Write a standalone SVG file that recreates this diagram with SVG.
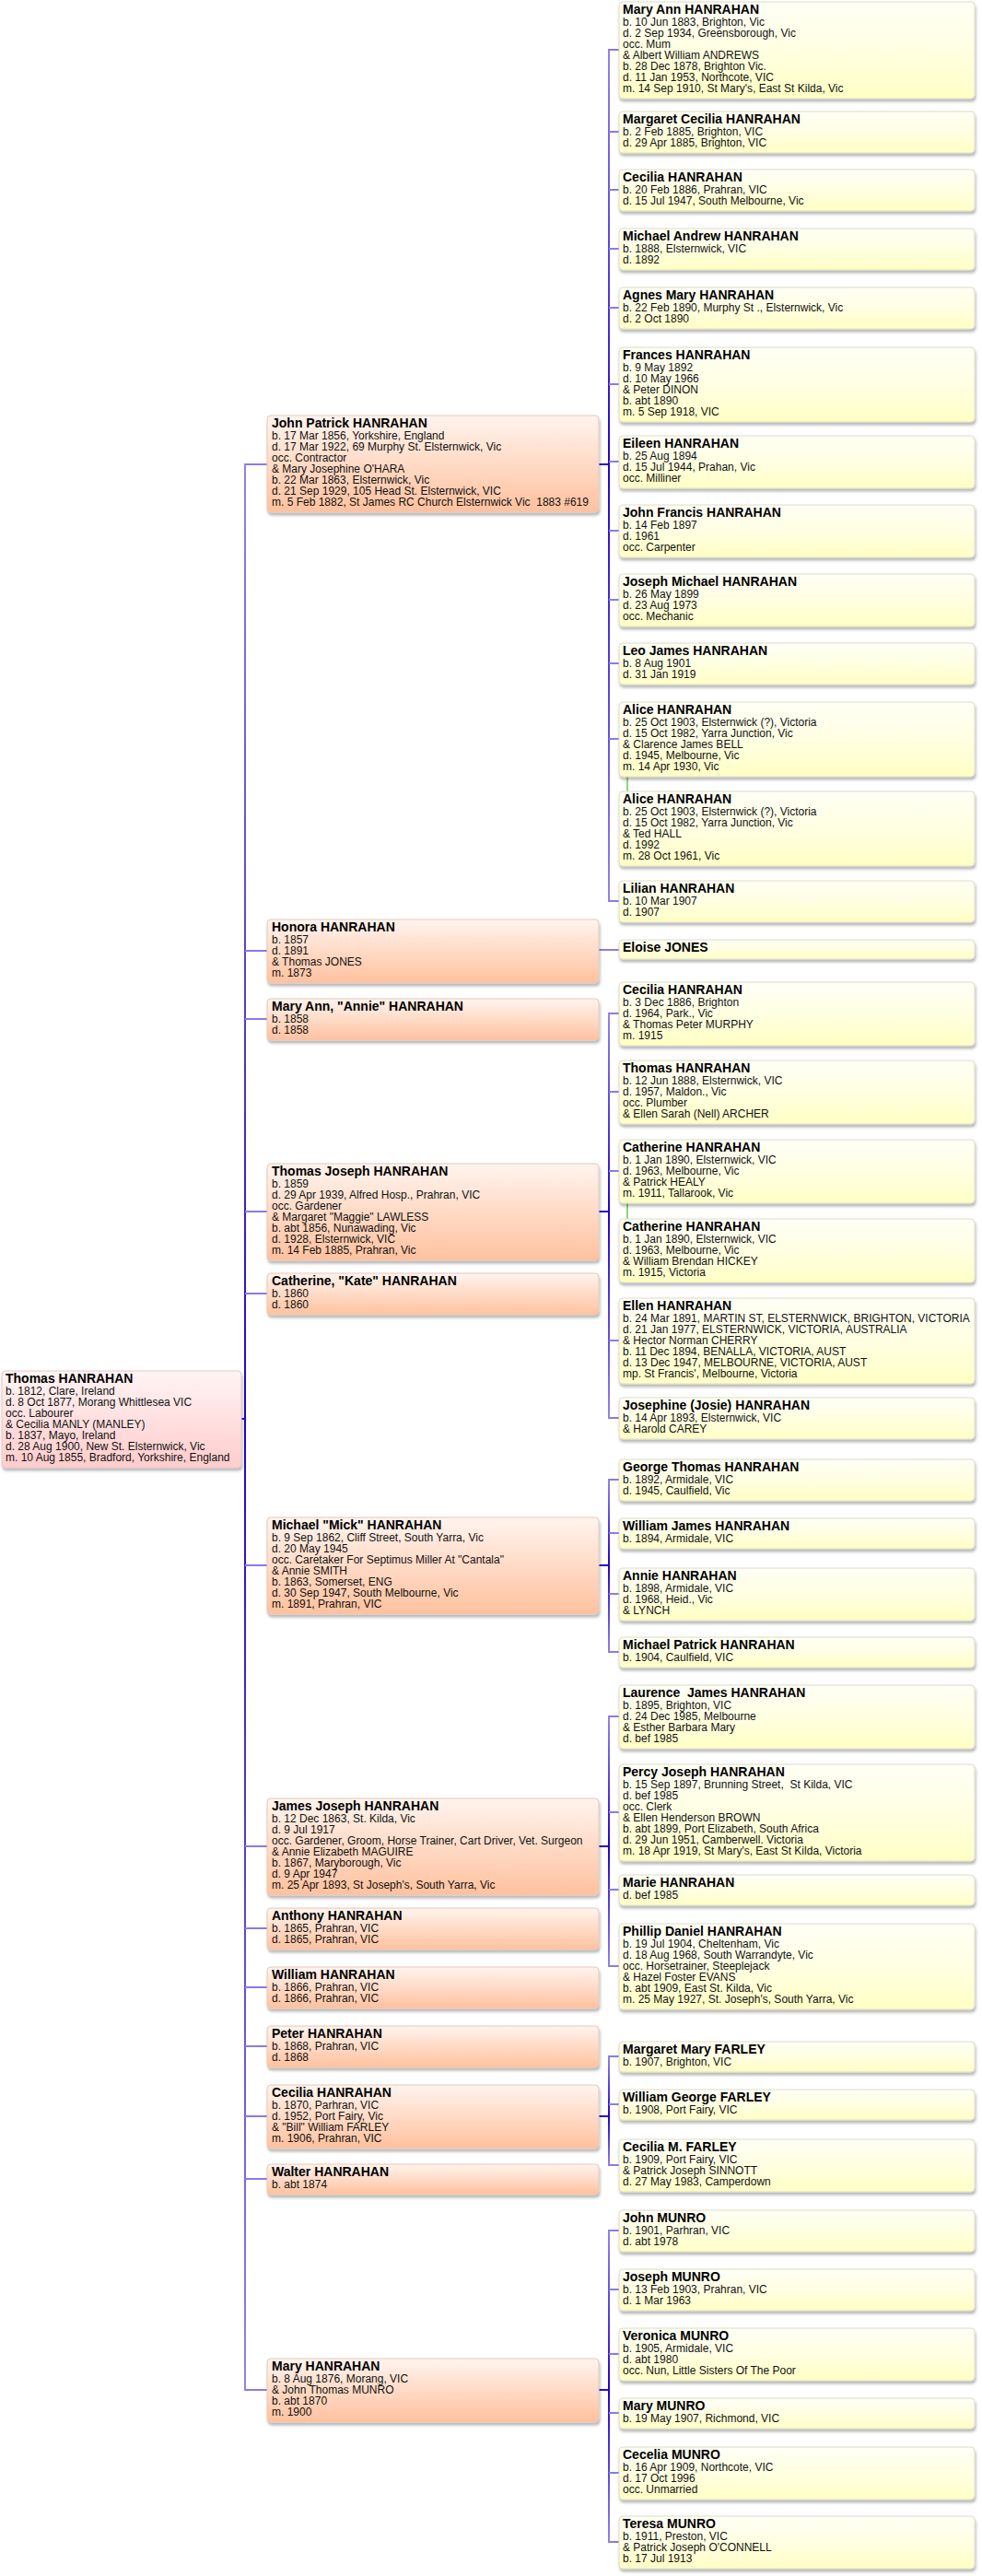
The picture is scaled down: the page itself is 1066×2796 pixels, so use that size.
<svg xmlns="http://www.w3.org/2000/svg" width="1066" height="2796" viewBox="0 0 1066 2796">
<style>
text{font-family:"Liberation Sans",Arial,Helvetica,sans-serif;font-size:12px;fill:#111}
.h{font-weight:bold;font-size:14px;fill:#000}
.y{fill:url(#gy);stroke:#dcdcc8;stroke-width:1;filter:url(#sh)}
.o{fill:url(#go);stroke:#e6c8b8;stroke-width:1;filter:url(#sh)}
.p{fill:url(#gp);stroke:#e4c8c8;stroke-width:1;filter:url(#sh)}
.lt{stroke:#8a7ce2;stroke-width:2;fill:none}
.dk{stroke:#2a0ed0;stroke-width:2;fill:none}
.gr{stroke:#8cd67c;stroke-width:2;fill:none}
</style>
<defs>
<linearGradient id="gy" x1="0" y1="0" x2="0" y2="1"><stop offset="0" stop-color="#fffff6"/><stop offset="0.5" stop-color="#ffffe2"/><stop offset="1" stop-color="#ffffc4"/></linearGradient>
<linearGradient id="go" x1="0" y1="0" x2="0" y2="1"><stop offset="0" stop-color="#fff4ee"/><stop offset="1" stop-color="#ffc19e"/></linearGradient>
<linearGradient id="gp" x1="0" y1="0" x2="0" y2="1"><stop offset="0" stop-color="#fff4f4"/><stop offset="1" stop-color="#ffcccc"/></linearGradient>
<linearGradient id="gUp" x1="0" y1="0" x2="0" y2="1"><stop offset="0" stop-color="#9384e4"/><stop offset="1" stop-color="#2200cc"/></linearGradient>
<linearGradient id="gDn" x1="0" y1="0" x2="0" y2="1"><stop offset="0" stop-color="#2200cc"/><stop offset="1" stop-color="#9384e4"/></linearGradient>
<filter id="sh" x="-5%" y="-10%" width="110%" height="130%"><feDropShadow dx="1" dy="3" stdDeviation="1.6" flood-color="#000" flood-opacity="0.28"/></filter>
</defs>

<g id="connectors">
<rect x="265" y="503" width="2" height="1038" fill="url(#gUp)"/>
<rect x="265" y="1540" width="2" height="1055" fill="url(#gDn)"/>
<line class="dk" x1="262" y1="1540" x2="266" y2="1540"/>
<line class="lt" x1="266" y1="504" x2="290" y2="504"/>
<line class="lt" x1="266" y1="1032" x2="290" y2="1032"/>
<line class="lt" x1="266" y1="1106" x2="290" y2="1106"/>
<line class="lt" x1="266" y1="1315" x2="290" y2="1315"/>
<line class="lt" x1="266" y1="1404" x2="290" y2="1404"/>
<line class="lt" x1="266" y1="1699" x2="290" y2="1699"/>
<line class="lt" x1="266" y1="2004" x2="290" y2="2004"/>
<line class="lt" x1="266" y1="2093" x2="290" y2="2093"/>
<line class="lt" x1="266" y1="2157" x2="290" y2="2157"/>
<line class="lt" x1="266" y1="2221" x2="290" y2="2221"/>
<line class="lt" x1="266" y1="2297" x2="290" y2="2297"/>
<line class="lt" x1="266" y1="2365" x2="290" y2="2365"/>
<line class="lt" x1="266" y1="2594" x2="290" y2="2594"/>

<line class="dk" x1="650" y1="504" x2="661" y2="504"/>
<line class="dk" x1="650" y1="1315" x2="661" y2="1315"/>
<line class="dk" x1="650" y1="1699" x2="661" y2="1699"/>
<line class="dk" x1="650" y1="2004" x2="661" y2="2004"/>
<line class="dk" x1="650" y1="2297" x2="661" y2="2297"/>
<line class="dk" x1="650" y1="2594" x2="661" y2="2594"/>
<line class="lt" x1="650" y1="1031" x2="672" y2="1031"/>

<rect x="660" y="53" width="2" height="452" fill="url(#gUp)"/>
<rect x="660" y="504" width="2" height="475" fill="url(#gDn)"/>
<rect x="660" y="1099" width="2" height="217" fill="url(#gUp)"/>
<rect x="660" y="1315" width="2" height="225" fill="url(#gDn)"/>
<rect x="660" y="1605" width="2" height="95" fill="url(#gUp)"/>
<rect x="660" y="1699" width="2" height="95" fill="url(#gDn)"/>
<rect x="660" y="1862" width="2" height="143" fill="url(#gUp)"/>
<rect x="660" y="2004" width="2" height="131" fill="url(#gDn)"/>
<rect x="660" y="2231" width="2" height="67" fill="url(#gUp)"/>
<rect x="660" y="2297" width="2" height="54" fill="url(#gDn)"/>
<rect x="660" y="2420" width="2" height="175" fill="url(#gUp)"/>
<rect x="660" y="2594" width="2" height="166" fill="url(#gDn)"/>

<line class="lt" x1="661" y1="54" x2="672" y2="54"/>
<line class="lt" x1="661" y1="143" x2="672" y2="143"/>
<line class="lt" x1="661" y1="206" x2="672" y2="206"/>
<line class="lt" x1="661" y1="270" x2="672" y2="270"/>
<line class="lt" x1="661" y1="334" x2="672" y2="334"/>
<line class="lt" x1="661" y1="417" x2="672" y2="417"/>
<line class="lt" x1="661" y1="501" x2="672" y2="501"/>
<line class="lt" x1="661" y1="576" x2="672" y2="576"/>
<line class="lt" x1="661" y1="651" x2="672" y2="651"/>
<line class="lt" x1="661" y1="720" x2="672" y2="720"/>
<line class="lt" x1="661" y1="802" x2="672" y2="802"/>
<line class="lt" x1="661" y1="978" x2="672" y2="978"/>
<line class="lt" x1="661" y1="1100" x2="672" y2="1100"/>
<line class="lt" x1="661" y1="1185" x2="672" y2="1185"/>
<line class="lt" x1="661" y1="1271" x2="672" y2="1271"/>
<line class="lt" x1="661" y1="1455" x2="672" y2="1455"/>
<line class="lt" x1="661" y1="1539" x2="672" y2="1539"/>
<line class="lt" x1="661" y1="1606" x2="672" y2="1606"/>
<line class="lt" x1="661" y1="1664" x2="672" y2="1664"/>
<line class="lt" x1="661" y1="1730" x2="672" y2="1730"/>
<line class="lt" x1="661" y1="1793" x2="672" y2="1793"/>
<line class="lt" x1="661" y1="1863" x2="672" y2="1863"/>
<line class="lt" x1="661" y1="1967" x2="672" y2="1967"/>
<line class="lt" x1="661" y1="2051" x2="672" y2="2051"/>
<line class="lt" x1="661" y1="2134" x2="672" y2="2134"/>
<line class="lt" x1="661" y1="2232" x2="672" y2="2232"/>
<line class="lt" x1="661" y1="2284" x2="672" y2="2284"/>
<line class="lt" x1="661" y1="2350" x2="672" y2="2350"/>
<line class="lt" x1="661" y1="2421" x2="672" y2="2421"/>
<line class="lt" x1="661" y1="2485" x2="672" y2="2485"/>
<line class="lt" x1="661" y1="2555" x2="672" y2="2555"/>
<line class="lt" x1="661" y1="2619" x2="672" y2="2619"/>
<line class="lt" x1="661" y1="2684" x2="672" y2="2684"/>
<line class="lt" x1="661" y1="2759" x2="672" y2="2759"/>

<line class="gr" x1="681" y1="843" x2="681" y2="859"/>
<line class="gr" x1="681" y1="1306" x2="681" y2="1323"/>
</g>

<g id="root">
<rect class="p" x="2" y="1488" width="260" height="105" rx="4"/>
<text x="6" y="1501"><tspan class="h">Thomas HANRAHAN</tspan><tspan x="6" dy="12.5">b. 1812, Clare, Ireland</tspan><tspan x="6" dy="12">d. 8 Oct 1877, Morang Whittlesea VIC</tspan><tspan x="6" dy="12">occ. Labourer</tspan><tspan x="6" dy="12">&amp; Cecilia MANLY (MANLEY)</tspan><tspan x="6" dy="12">b. 1837, Mayo, Ireland</tspan><tspan x="6" dy="12">d. 28 Aug 1900, New St. Elsternwick, Vic</tspan><tspan x="6" dy="12">m. 10 Aug 1855, Bradford, Yorkshire, England</tspan></text>
</g>

<g id="p01">
<rect class="o" x="290" y="451" width="360" height="105" rx="4"/>
<text x="295" y="464"><tspan class="h">John Patrick HANRAHAN</tspan><tspan x="295" dy="12.5">b. 17 Mar 1856, Yorkshire, England</tspan><tspan x="295" dy="12">d. 17 Mar 1922, 69 Murphy St. Elsternwick, Vic</tspan><tspan x="295" dy="12">occ. Contractor</tspan><tspan x="295" dy="12">&amp; Mary Josephine O'HARA</tspan><tspan x="295" dy="12">b. 22 Mar 1863, Elsternwick, Vic</tspan><tspan x="295" dy="12">d. 21 Sep 1929, 105 Head St. Elsternwick, VIC</tspan><tspan x="295" dy="12">m. 5 Feb 1882, St James RC Church Elsternwick Vic&#160; 1883 #619</tspan></text>
</g>
<g id="p02">
<rect class="o" x="290" y="998" width="360" height="69" rx="4"/>
<text x="295" y="1011"><tspan class="h">Honora HANRAHAN</tspan><tspan x="295" dy="12.5">b. 1857</tspan><tspan x="295" dy="12">d. 1891</tspan><tspan x="295" dy="12">&amp; Thomas JONES</tspan><tspan x="295" dy="12">m. 1873</tspan></text>
</g>
<g id="p03">
<rect class="o" x="290" y="1084" width="360" height="45" rx="4"/>
<text x="295" y="1097"><tspan class="h">Mary Ann, "Annie" HANRAHAN</tspan><tspan x="295" dy="12.5">b. 1858</tspan><tspan x="295" dy="12">d. 1858</tspan></text>
</g>
<g id="p04">
<rect class="o" x="290" y="1263" width="360" height="105" rx="4"/>
<text x="295" y="1276"><tspan class="h">Thomas Joseph HANRAHAN</tspan><tspan x="295" dy="12.5">b. 1859</tspan><tspan x="295" dy="12">d. 29 Apr 1939, Alfred Hosp., Prahran, VIC</tspan><tspan x="295" dy="12">occ. Gardener</tspan><tspan x="295" dy="12">&amp; Margaret "Maggie" LAWLESS</tspan><tspan x="295" dy="12">b. abt 1856, Nunawading, Vic</tspan><tspan x="295" dy="12">d. 1928, Elsternwick, VIC</tspan><tspan x="295" dy="12">m. 14 Feb 1885, Prahran, Vic</tspan></text>
</g>
<g id="p05">
<rect class="o" x="290" y="1382" width="360" height="45" rx="4"/>
<text x="295" y="1395"><tspan class="h">Catherine, "Kate" HANRAHAN</tspan><tspan x="295" dy="12.5">b. 1860</tspan><tspan x="295" dy="12">d. 1860</tspan></text>
</g>
<g id="p06">
<rect class="o" x="290" y="1647" width="360" height="105" rx="4"/>
<text x="295" y="1660"><tspan class="h">Michael "Mick" HANRAHAN</tspan><tspan x="295" dy="12.5">b. 9 Sep 1862, Cliff Street, South Yarra, Vic</tspan><tspan x="295" dy="12">d. 20 May 1945</tspan><tspan x="295" dy="12">occ. Caretaker For Septimus Miller At "Cantala"</tspan><tspan x="295" dy="12">&amp; Annie SMITH</tspan><tspan x="295" dy="12">b. 1863, Somerset, ENG</tspan><tspan x="295" dy="12">d. 30 Sep 1947, South Melbourne, Vic</tspan><tspan x="295" dy="12">m. 1891, Prahran, VIC</tspan></text>
</g>
<g id="p07">
<rect class="o" x="290" y="1952" width="360" height="105" rx="4"/>
<text x="295" y="1965"><tspan class="h">James Joseph HANRAHAN</tspan><tspan x="295" dy="12.5">b. 12 Dec 1863, St. Kilda, Vic</tspan><tspan x="295" dy="12">d. 9 Jul 1917</tspan><tspan x="295" dy="12">occ. Gardener, Groom, Horse Trainer, Cart Driver, Vet. Surgeon</tspan><tspan x="295" dy="12">&amp; Annie Elizabeth MAGUIRE</tspan><tspan x="295" dy="12">b. 1867, Maryborough, Vic</tspan><tspan x="295" dy="12">d. 9 Apr 1947</tspan><tspan x="295" dy="12">m. 25 Apr 1893, St Joseph's, South Yarra, Vic</tspan></text>
</g>
<g id="p08">
<rect class="o" x="290" y="2071" width="360" height="45" rx="4"/>
<text x="295" y="2084"><tspan class="h">Anthony HANRAHAN</tspan><tspan x="295" dy="12.5">b. 1865, Prahran, VIC</tspan><tspan x="295" dy="12">d. 1865, Prahran, VIC</tspan></text>
</g>
<g id="p09">
<rect class="o" x="290" y="2135" width="360" height="45" rx="4"/>
<text x="295" y="2148"><tspan class="h">William HANRAHAN</tspan><tspan x="295" dy="12.5">b. 1866, Prahran, VIC</tspan><tspan x="295" dy="12">d. 1866, Prahran, VIC</tspan></text>
</g>
<g id="p10">
<rect class="o" x="290" y="2199" width="360" height="45" rx="4"/>
<text x="295" y="2212"><tspan class="h">Peter HANRAHAN</tspan><tspan x="295" dy="12.5">b. 1868, Prahran, VIC</tspan><tspan x="295" dy="12">d. 1868</tspan></text>
</g>
<g id="p11">
<rect class="o" x="290" y="2263" width="360" height="69" rx="4"/>
<text x="295" y="2276"><tspan class="h">Cecilia HANRAHAN</tspan><tspan x="295" dy="12.5">b. 1870, Parhran, VIC</tspan><tspan x="295" dy="12">d. 1952, Port Fairy, Vic</tspan><tspan x="295" dy="12">&amp; "Bill" William FARLEY</tspan><tspan x="295" dy="12">m. 1906, Prahran, VIC</tspan></text>
</g>
<g id="p12">
<rect class="o" x="290" y="2349" width="360" height="33" rx="4"/>
<text x="295" y="2362"><tspan class="h">Walter HANRAHAN</tspan><tspan x="295" dy="12.5">b. abt 1874</tspan></text>
</g>
<g id="p13">
<rect class="o" x="290" y="2560" width="360" height="69" rx="4"/>
<text x="295" y="2573"><tspan class="h">Mary HANRAHAN</tspan><tspan x="295" dy="12.5">b. 8 Aug 1876, Morang, VIC</tspan><tspan x="295" dy="12">&amp; John Thomas MUNRO</tspan><tspan x="295" dy="12">b. abt 1870</tspan><tspan x="295" dy="12">m. 1900</tspan></text>
</g>

<g id="c01">
<rect class="y" x="672" y="2" width="386" height="105" rx="4"/>
<text x="676" y="15"><tspan class="h">Mary Ann HANRAHAN</tspan><tspan x="676" dy="12.5">b. 10 Jun 1883, Brighton, Vic</tspan><tspan x="676" dy="12">d. 2 Sep 1934, Greensborough, Vic</tspan><tspan x="676" dy="12">occ. Mum</tspan><tspan x="676" dy="12">&amp; Albert William ANDREWS</tspan><tspan x="676" dy="12">b. 28 Dec 1878, Brighton Vic.</tspan><tspan x="676" dy="12">d. 11 Jan 1953, Northcote, VIC</tspan><tspan x="676" dy="12">m. 14 Sep 1910, St Mary's, East St Kilda, Vic</tspan></text>
</g>
<g id="c02">
<rect class="y" x="672" y="121" width="386" height="45" rx="4"/>
<text x="676" y="134"><tspan class="h">Margaret Cecilia HANRAHAN</tspan><tspan x="676" dy="12.5">b. 2 Feb 1885, Brighton, VIC</tspan><tspan x="676" dy="12">d. 29 Apr 1885, Brighton, VIC</tspan></text>
</g>
<g id="c03">
<rect class="y" x="672" y="184" width="386" height="45" rx="4"/>
<text x="676" y="197"><tspan class="h">Cecilia HANRAHAN</tspan><tspan x="676" dy="12.5">b. 20 Feb 1886, Prahran, VIC</tspan><tspan x="676" dy="12">d. 15 Jul 1947, South Melbourne, Vic</tspan></text>
</g>
<g id="c04">
<rect class="y" x="672" y="248" width="386" height="45" rx="4"/>
<text x="676" y="261"><tspan class="h">Michael Andrew HANRAHAN</tspan><tspan x="676" dy="12.5">b. 1888, Elsternwick, VIC</tspan><tspan x="676" dy="12">d. 1892</tspan></text>
</g>
<g id="c05">
<rect class="y" x="672" y="312" width="386" height="45" rx="4"/>
<text x="676" y="325"><tspan class="h">Agnes Mary HANRAHAN</tspan><tspan x="676" dy="12.5">b. 22 Feb 1890, Murphy St ., Elsternwick, Vic</tspan><tspan x="676" dy="12">d. 2 Oct 1890</tspan></text>
</g>
<g id="c06">
<rect class="y" x="672" y="377" width="386" height="81" rx="4"/>
<text x="676" y="390"><tspan class="h">Frances HANRAHAN</tspan><tspan x="676" dy="12.5">b. 9 May 1892</tspan><tspan x="676" dy="12">d. 10 May 1966</tspan><tspan x="676" dy="12">&amp; Peter DINON</tspan><tspan x="676" dy="12">b. abt 1890</tspan><tspan x="676" dy="12">m. 5 Sep 1918, VIC</tspan></text>
</g>
<g id="c07">
<rect class="y" x="672" y="473" width="386" height="57" rx="4"/>
<text x="676" y="486"><tspan class="h">Eileen HANRAHAN</tspan><tspan x="676" dy="12.5">b. 25 Aug 1894</tspan><tspan x="676" dy="12">d. 15 Jul 1944, Prahan, Vic</tspan><tspan x="676" dy="12">occ. Milliner</tspan></text>
</g>
<g id="c08">
<rect class="y" x="672" y="548" width="386" height="57" rx="4"/>
<text x="676" y="561"><tspan class="h">John Francis HANRAHAN</tspan><tspan x="676" dy="12.5">b. 14 Feb 1897</tspan><tspan x="676" dy="12">d. 1961</tspan><tspan x="676" dy="12">occ. Carpenter</tspan></text>
</g>
<g id="c09">
<rect class="y" x="672" y="623" width="386" height="57" rx="4"/>
<text x="676" y="636"><tspan class="h">Joseph Michael HANRAHAN</tspan><tspan x="676" dy="12.5">b. 26 May 1899</tspan><tspan x="676" dy="12">d. 23 Aug 1973</tspan><tspan x="676" dy="12">occ. Mechanic</tspan></text>
</g>
<g id="c10">
<rect class="y" x="672" y="698" width="386" height="45" rx="4"/>
<text x="676" y="711"><tspan class="h">Leo James HANRAHAN</tspan><tspan x="676" dy="12.5">b. 8 Aug 1901</tspan><tspan x="676" dy="12">d. 31 Jan 1919</tspan></text>
</g>
<g id="c11">
<rect class="y" x="672" y="762" width="386" height="81" rx="4"/>
<text x="676" y="775"><tspan class="h">Alice HANRAHAN</tspan><tspan x="676" dy="12.5">b. 25 Oct 1903, Elsternwick (?), Victoria</tspan><tspan x="676" dy="12">d. 15 Oct 1982, Yarra Junction, Vic</tspan><tspan x="676" dy="12">&amp; Clarence James BELL</tspan><tspan x="676" dy="12">d. 1945, Melbourne, Vic</tspan><tspan x="676" dy="12">m. 14 Apr 1930, Vic</tspan></text>
</g>
<g id="c12">
<rect class="y" x="672" y="859" width="386" height="81" rx="4"/>
<text x="676" y="872"><tspan class="h">Alice HANRAHAN</tspan><tspan x="676" dy="12.5">b. 25 Oct 1903, Elsternwick (?), Victoria</tspan><tspan x="676" dy="12">d. 15 Oct 1982, Yarra Junction, Vic</tspan><tspan x="676" dy="12">&amp; Ted HALL</tspan><tspan x="676" dy="12">d. 1992</tspan><tspan x="676" dy="12">m. 28 Oct 1961, Vic</tspan></text>
</g>
<g id="c13">
<rect class="y" x="672" y="956" width="386" height="45" rx="4"/>
<text x="676" y="969"><tspan class="h">Lilian HANRAHAN</tspan><tspan x="676" dy="12.5">b. 10 Mar 1907</tspan><tspan x="676" dy="12">d. 1907</tspan></text>
</g>
<g id="c14">
<rect class="y" x="672" y="1020" width="386" height="21" rx="4"/>
<text x="676" y="1033"><tspan class="h">Eloise JONES</tspan></text>
</g>
<g id="c15">
<rect class="y" x="672" y="1066" width="386" height="69" rx="4"/>
<text x="676" y="1079"><tspan class="h">Cecilia HANRAHAN</tspan><tspan x="676" dy="12.5">b. 3 Dec 1886, Brighton</tspan><tspan x="676" dy="12">d. 1964, Park., Vic</tspan><tspan x="676" dy="12">&amp; Thomas Peter MURPHY</tspan><tspan x="676" dy="12">m. 1915</tspan></text>
</g>
<g id="c16">
<rect class="y" x="672" y="1151" width="386" height="69" rx="4"/>
<text x="676" y="1164"><tspan class="h">Thomas HANRAHAN</tspan><tspan x="676" dy="12.5">b. 12 Jun 1888, Elsternwick, VIC</tspan><tspan x="676" dy="12">d. 1957, Maldon., Vic</tspan><tspan x="676" dy="12">occ. Plumber</tspan><tspan x="676" dy="12">&amp; Ellen Sarah (Nell) ARCHER</tspan></text>
</g>
<g id="c17">
<rect class="y" x="672" y="1237" width="386" height="69" rx="4"/>
<text x="676" y="1250"><tspan class="h">Catherine HANRAHAN</tspan><tspan x="676" dy="12.5">b. 1 Jan 1890, Elsternwick, VIC</tspan><tspan x="676" dy="12">d. 1963, Melbourne, Vic</tspan><tspan x="676" dy="12">&amp; Patrick HEALY</tspan><tspan x="676" dy="12">m. 1911, Tallarook, Vic</tspan></text>
</g>
<g id="c18">
<rect class="y" x="672" y="1323" width="386" height="69" rx="4"/>
<text x="676" y="1336"><tspan class="h">Catherine HANRAHAN</tspan><tspan x="676" dy="12.5">b. 1 Jan 1890, Elsternwick, VIC</tspan><tspan x="676" dy="12">d. 1963, Melbourne, Vic</tspan><tspan x="676" dy="12">&amp; William Brendan HICKEY</tspan><tspan x="676" dy="12">m. 1915, Victoria</tspan></text>
</g>
<g id="c19">
<rect class="y" x="672" y="1409" width="386" height="93" rx="4"/>
<text x="676" y="1422"><tspan class="h">Ellen HANRAHAN</tspan><tspan x="676" dy="12.5">b. 24 Mar 1891, MARTIN ST, ELSTERNWICK, BRIGHTON, VICTORIA</tspan><tspan x="676" dy="12">d. 21 Jan 1977, ELSTERNWICK, VICTORIA, AUSTRALIA</tspan><tspan x="676" dy="12">&amp; Hector Norman CHERRY</tspan><tspan x="676" dy="12">b. 11 Dec 1894, BENALLA, VICTORIA, AUST</tspan><tspan x="676" dy="12">d. 13 Dec 1947, MELBOURNE, VICTORIA, AUST</tspan><tspan x="676" dy="12">mp. St Francis', Melbourne, Victoria</tspan></text>
</g>
<g id="c20">
<rect class="y" x="672" y="1517" width="386" height="45" rx="4"/>
<text x="676" y="1530"><tspan class="h">Josephine (Josie) HANRAHAN</tspan><tspan x="676" dy="12.5">b. 14 Apr 1893, Elsternwick, VIC</tspan><tspan x="676" dy="12">&amp; Harold CAREY</tspan></text>
</g>
<g id="c21">
<rect class="y" x="672" y="1584" width="386" height="45" rx="4"/>
<text x="676" y="1597"><tspan class="h">George Thomas HANRAHAN</tspan><tspan x="676" dy="12.5">b. 1892, Armidale, VIC</tspan><tspan x="676" dy="12">d. 1945, Caulfield, Vic</tspan></text>
</g>
<g id="c22">
<rect class="y" x="672" y="1648" width="386" height="33" rx="4"/>
<text x="676" y="1661"><tspan class="h">William James HANRAHAN</tspan><tspan x="676" dy="12.5">b. 1894, Armidale, VIC</tspan></text>
</g>
<g id="c23">
<rect class="y" x="672" y="1702" width="386" height="57" rx="4"/>
<text x="676" y="1715"><tspan class="h">Annie HANRAHAN</tspan><tspan x="676" dy="12.5">b. 1898, Armidale, VIC</tspan><tspan x="676" dy="12">d. 1968, Heid., Vic</tspan><tspan x="676" dy="12">&amp; LYNCH</tspan></text>
</g>
<g id="c24">
<rect class="y" x="672" y="1777" width="386" height="33" rx="4"/>
<text x="676" y="1790"><tspan class="h">Michael Patrick HANRAHAN</tspan><tspan x="676" dy="12.5">b. 1904, Caulfield, VIC</tspan></text>
</g>
<g id="c25">
<rect class="y" x="672" y="1829" width="386" height="69" rx="4"/>
<text x="676" y="1842"><tspan class="h">Laurence&#160; James HANRAHAN</tspan><tspan x="676" dy="12.5">b. 1895, Brighton, VIC</tspan><tspan x="676" dy="12">d. 24 Dec 1985, Melbourne</tspan><tspan x="676" dy="12">&amp; Esther Barbara Mary</tspan><tspan x="676" dy="12">d. bef 1985</tspan></text>
</g>
<g id="c26">
<rect class="y" x="672" y="1915" width="386" height="105" rx="4"/>
<text x="676" y="1928"><tspan class="h">Percy Joseph HANRAHAN</tspan><tspan x="676" dy="12.5">b. 15 Sep 1897, Brunning Street,&#160; St Kilda, VIC</tspan><tspan x="676" dy="12">d. bef 1985</tspan><tspan x="676" dy="12">occ. Clerk</tspan><tspan x="676" dy="12">&amp; Ellen Henderson BROWN</tspan><tspan x="676" dy="12">b. abt 1899, Port Elizabeth, South Africa</tspan><tspan x="676" dy="12">d. 29 Jun 1951, Camberwell. Victoria</tspan><tspan x="676" dy="12">m. 18 Apr 1919, St Mary's, East St Kilda, Victoria</tspan></text>
</g>
<g id="c27">
<rect class="y" x="672" y="2035" width="386" height="33" rx="4"/>
<text x="676" y="2048"><tspan class="h">Marie HANRAHAN</tspan><tspan x="676" dy="12.5">d. bef 1985</tspan></text>
</g>
<g id="c28">
<rect class="y" x="672" y="2088" width="386" height="93" rx="4"/>
<text x="676" y="2101"><tspan class="h">Phillip Daniel HANRAHAN</tspan><tspan x="676" dy="12.5">b. 19 Jul 1904, Cheltenham, Vic</tspan><tspan x="676" dy="12">d. 18 Aug 1968, South Warrandyte, Vic</tspan><tspan x="676" dy="12">occ. Horsetrainer, Steeplejack</tspan><tspan x="676" dy="12">&amp; Hazel Foster EVANS</tspan><tspan x="676" dy="12">b. abt 1909, East St. Kilda, Vic</tspan><tspan x="676" dy="12">m. 25 May 1927, St. Joseph's, South Yarra, Vic</tspan></text>
</g>
<g id="c29">
<rect class="y" x="672" y="2216" width="386" height="33" rx="4"/>
<text x="676" y="2229"><tspan class="h">Margaret Mary FARLEY</tspan><tspan x="676" dy="12.5">b. 1907, Brighton, VIC</tspan></text>
</g>
<g id="c30">
<rect class="y" x="672" y="2268" width="386" height="33" rx="4"/>
<text x="676" y="2281"><tspan class="h">William George FARLEY</tspan><tspan x="676" dy="12.5">b. 1908, Port Fairy, VIC</tspan></text>
</g>
<g id="c31">
<rect class="y" x="672" y="2322" width="386" height="57" rx="4"/>
<text x="676" y="2335"><tspan class="h">Cecilia M. FARLEY</tspan><tspan x="676" dy="12.5">b. 1909, Port Fairy, VIC</tspan><tspan x="676" dy="12">&amp; Patrick Joseph SINNOTT</tspan><tspan x="676" dy="12">d. 27 May 1983, Camperdown</tspan></text>
</g>
<g id="c32">
<rect class="y" x="672" y="2399" width="386" height="45" rx="4"/>
<text x="676" y="2412"><tspan class="h">John MUNRO</tspan><tspan x="676" dy="12.5">b. 1901, Parhran, VIC</tspan><tspan x="676" dy="12">d. abt 1978</tspan></text>
</g>
<g id="c33">
<rect class="y" x="672" y="2463" width="386" height="45" rx="4"/>
<text x="676" y="2476"><tspan class="h">Joseph MUNRO</tspan><tspan x="676" dy="12.5">b. 13 Feb 1903, Prahran, VIC</tspan><tspan x="676" dy="12">d. 1 Mar 1963</tspan></text>
</g>
<g id="c34">
<rect class="y" x="672" y="2527" width="386" height="57" rx="4"/>
<text x="676" y="2540"><tspan class="h">Veronica MUNRO</tspan><tspan x="676" dy="12.5">b. 1905, Armidale, VIC</tspan><tspan x="676" dy="12">d. abt 1980</tspan><tspan x="676" dy="12">occ. Nun, Little Sisters Of The Poor</tspan></text>
</g>
<g id="c35">
<rect class="y" x="672" y="2603" width="386" height="33" rx="4"/>
<text x="676" y="2616"><tspan class="h">Mary MUNRO</tspan><tspan x="676" dy="12.5">b. 19 May 1907, Richmond, VIC</tspan></text>
</g>
<g id="c36">
<rect class="y" x="672" y="2656" width="386" height="57" rx="4"/>
<text x="676" y="2669"><tspan class="h">Cecelia MUNRO</tspan><tspan x="676" dy="12.5">b. 16 Apr 1909, Northcote, VIC</tspan><tspan x="676" dy="12">d. 17 Oct 1996</tspan><tspan x="676" dy="12">occ. Unmarried</tspan></text>
</g>
<g id="c37">
<rect class="y" x="672" y="2731" width="386" height="57" rx="4"/>
<text x="676" y="2744"><tspan class="h">Teresa MUNRO</tspan><tspan x="676" dy="12.5">b. 1911, Preston, VIC</tspan><tspan x="676" dy="12">&amp; Patrick Joseph O'CONNELL</tspan><tspan x="676" dy="12">b. 17 Jul 1913</tspan></text>
</g>
</svg>
